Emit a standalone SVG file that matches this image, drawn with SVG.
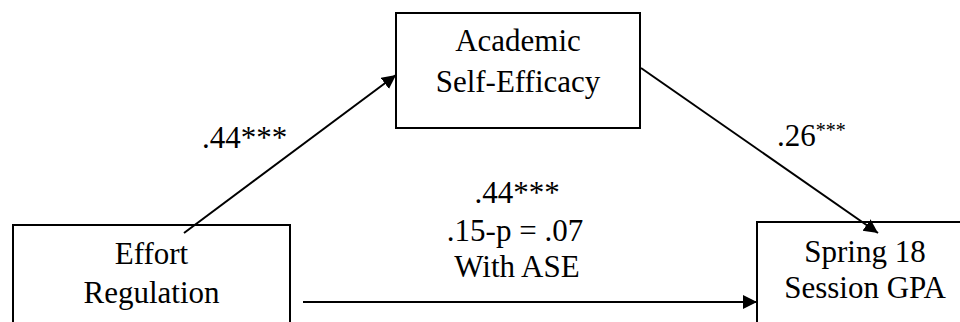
<svg xmlns="http://www.w3.org/2000/svg" width="960" height="322" viewBox="0 0 960 322">
<style>
.box{fill:#fff;stroke:#000;stroke-width:2}
.t{font-family:"Liberation Serif","Times New Roman",serif;font-size:31px;fill:#000;text-anchor:middle}
.l{font-family:"Liberation Serif","Times New Roman",serif;font-size:31px;fill:#000}
.conn{stroke:#000;stroke-width:2;fill:none;marker-end:url(#ah)}
</style>
<defs>
<marker id="ah" markerUnits="userSpaceOnUse" markerWidth="16" markerHeight="16" refX="14" refY="7" orient="auto">
<path d="M0,0 L14,7 L0,14 z" fill="#000"/>
</marker>
</defs>
<rect width="960" height="322" fill="#fff"/>
<g id="ase">
<rect class="box" x="396" y="13" width="244" height="115"/>
<text class="t" x="518" y="51">Academic</text>
<text class="t" x="518" y="92">Self-Efficacy</text>
</g>
<g id="effort">
<rect class="box" x="13" y="225" width="277" height="110"/>
<text class="t" x="151.5" y="264">Effort</text>
<text class="t" x="151.5" y="303">Regulation</text>
</g>
<g id="gpa">
<rect class="box" x="757" y="222" width="216" height="113"/>
<text class="t" x="865" y="262">Spring 18</text>
<text class="t" x="865" y="298">Session GPA</text>
</g>
<g id="connectors">
<line class="conn" x1="184" y1="233" x2="396" y2="75"/>
<line class="conn" x1="641" y1="68" x2="878" y2="233"/>
<line class="conn" x1="303" y1="302" x2="757" y2="302"/>
</g>
<g id="labels">
<text class="l" x="202" y="148">.44***</text>
<text class="l" x="777" y="146">.26<tspan font-size="20" dy="-9">***</tspan></text>
<text class="t" x="517" y="203">.44***</text>
<text class="t" x="515" y="241">.15-p = .07</text>
<text class="t" x="517" y="277">With ASE</text>
</g>
</svg>
